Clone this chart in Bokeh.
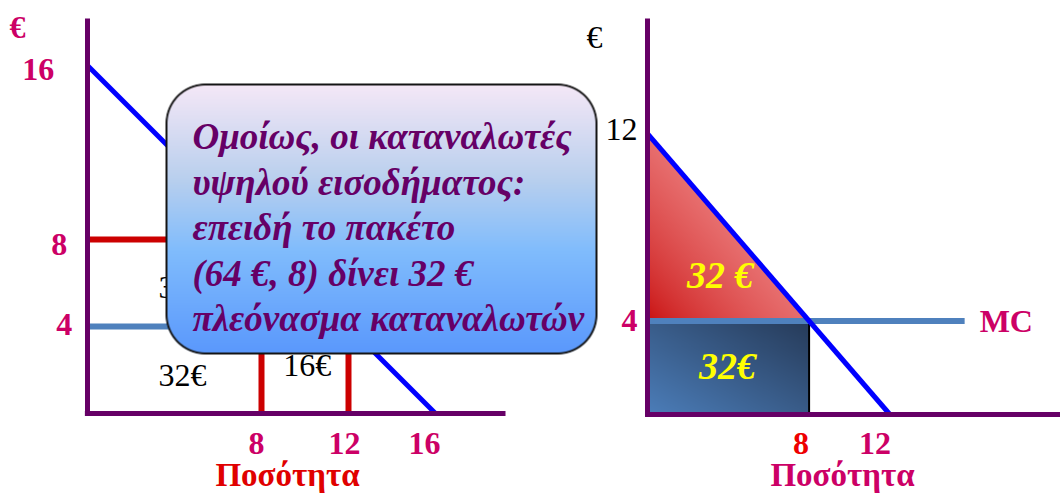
import numpy as np
from bokeh.plotting import figure
from bokeh.models import ColumnDataSource, Range1d
from bokeh.core.properties import value
from bokeh.embed import file_html
from bokeh.resources import INLINE

# ---------------- data ----------------
# Left panel: demand of high-income consumers, two-part tariff
left_demand_q = [0, 16]
left_demand_p = [16, 0]
left_price_ticks = [16, 8, 4]
left_qty_ticks = [8, 12, 16]
left_mc_price = 4
left_mc_q = [0, 12]
left_fee_price = 8
left_fee_q = [0, 8]
left_red_q = [8, 12]
left_red_top = [8, 4]
left_area_text = ["32€", "32€", "16€"]
left_area_q = [4.37, 4.37, 10.1]
left_area_p = [5.8, 1.79, 2.23]

# Right panel: single price at marginal cost
right_demand_q = [0, 12]
right_demand_p = [12, 0]
right_price_ticks = [12, 4]
right_qty_ticks = [8, 12]
right_mc_price = 4
right_mc_q = [0, 15.7]
right_quantity = 8
surplus_value = 32
cost_value = 32

box_lines = [
    "Ομοίως, οι καταναλωτές",
    "υψηλού εισοδήματος:",
    "επειδή το πακέτο",
    "(64 €, 8) δίνει 32 €",
    "πλεόνασμα καταναλωτών",
]

# ---------------- layout / style ----------------
W, H = 1060, 496
L_ORIG, L_S = (87.0, 413.0), 21.75            # left panel origin (px) and px per unit
R_ORIG, R_SX, R_SY = (647.0, 414.0), 20.2, 23.4  # right panel origin and scales

PURPLE = "#660066"
CRIMSON = "#cc0066"
RED = "#e00000"
LINE_RED = "#cc0000"
STEEL = "#4f81bd"
BLUE = "#0000ff"
YELLOW = "#ffff00"
SERIF = value("Liberation Serif")


def lx(px):
    return (px - L_ORIG[0]) / L_S


def ly(py):
    return (L_ORIG[1] - py) / L_S


def rx(px):
    return (px - R_ORIG[0]) / R_SX


def ry(py):
    return (R_ORIG[1] - py) / R_SY


p = figure(width=W, height=H,
           x_range=Range1d(lx(0), lx(W)), y_range=Range1d(ly(H), ly(0)),
           output_backend="svg", toolbar_location=None,
           x_axis_type=None, y_axis_type=None, min_border=0)
p.min_border_left = p.min_border_right = p.min_border_top = p.min_border_bottom = 0
p.outline_line_color = None
p.background_fill_color = "white"
p.extra_x_ranges = {"r": Range1d(rx(0), rx(W))}
p.extra_y_ranges = {"r": Range1d(ry(H), ry(0))}

R = dict(x_range_name="r", y_range_name="r")


def text(xs, ys, labels, color, size, style="bold", align="center",
         baseline="middle", dx=0, dy=0, **kw):
    n = len(xs)
    dxs = dx if isinstance(dx, list) else [dx] * n
    dys = dy if isinstance(dy, list) else [dy] * n
    src = ColumnDataSource(dict(x=xs, y=ys, t=labels, dx=dxs, dy=dys))
    p.text(x="x", y="y", text="t", source=src, text_font=SERIF,
           text_font_size=value(f"{size}px"), text_font_style=style,
           text_color=color, text_align=align, text_baseline=baseline,
           x_offset="dx", y_offset="dy", **kw)


def rgba_image(rgb, alpha):
    h, w = alpha.shape
    img = np.empty((h, w), dtype=np.uint32)
    v = img.view(dtype=np.uint8).reshape((h, w, 4))
    v[:, :, 0:3] = np.clip(rgb, 0, 255).astype(np.uint8)
    v[:, :, 3] = np.clip(alpha * 255, 0, 255).astype(np.uint8)
    return img


# ================= LEFT PANEL =================
# red two-part tariff guides
p.segment(x0=left_fee_q[0], y0=left_fee_price, x1=left_fee_q[1], y1=left_fee_price,
          line_color=LINE_RED, line_width=6)
p.segment(x0=left_red_q, y0=[0, 0], x1=left_red_q, y1=left_red_top,
          line_color=LINE_RED, line_width=6)
# marginal cost
p.line(left_mc_q, [left_mc_price] * 2, line_color=STEEL, line_width=6)
# demand
p.line(left_demand_q, left_demand_p, line_color=BLUE, line_width=5)
# axes
p.segment(x0=[0, -0.12], y0=[-0.1, 0], x1=[0, lx(505)], y1=[ly(18), 0],
          line_color=PURPLE, line_width=5)

text(left_area_q, left_area_p, left_area_text, "black", 32, style="normal")

text([-0.7] * 3, left_price_ticks, [str(v) for v in left_price_ticks], CRIMSON, 32,
     align="right", dx=[-18, -5, 0], dy=[4, 5, -2])
text(left_qty_ticks, [ly(443)] * 3, [str(v) for v in left_qty_ticks], CRIMSON, 32,
     dx=[-5, -4, -11])
text([lx(17)], [ly(26)], ["€"], CRIMSON, 32)
text([lx(287)], [ly(474)], ["Ποσότητα"], RED, 33)

# ---- callout box with vertical gradient ----
bx0, by0, bx1, by1, rad = 165, 83, 597, 354, 40
bw, bh = bx1 - bx0, by1 - by0
yy, xx = np.mgrid[0:bh, 0:bw] + 0.5
qx = np.abs(xx - bw / 2) - (bw / 2 - rad)
qy = np.abs(yy - bh / 2) - (bh / 2 - rad)
sd = np.hypot(np.maximum(qx, 0), np.maximum(qy, 0)) + np.minimum(np.maximum(qx, qy), 0) - rad
inside = np.clip(0.5 - sd, 0, 1)
border = np.clip(1.0 - (np.abs(sd + 0.9) - 0.6), 0, 1)
t = yy / bh
stops = [0.0, 0.35, 0.62, 1.0]
cols = np.array([[246, 232, 247], [186, 208, 238], [128, 188, 253], [90, 152, 252]])
rgb = np.stack([np.interp(t, stops, cols[:, c]) for c in range(3)], axis=-1)
rgb = rgb * (1 - border[..., None]) + 20 * border[..., None]
p.image_rgba(image=[np.flipud(rgba_image(rgb, inside))], x=lx(bx0), y=ly(by1),
             dw=bw / L_S, dh=bh / L_S)

text([lx(192)] * len(box_lines), [ly(136 + 45.5 * i) for i in range(len(box_lines))],
     box_lines, PURPLE, 37, style="bold italic", align="left", baseline="alphabetic")

# ================= RIGHT PANEL =================
p_top = right_demand_p[0]
slope = (right_demand_p[1] - right_demand_p[0]) / (right_demand_q[1] - right_demand_q[0])

# consumer surplus triangle (red diagonal gradient)
nw = int(round(right_quantity * R_SX))
nh = int(round((p_top - right_mc_price) * R_SY))
vv, uu = np.mgrid[0:nh, 0:nw] + 0.5       # vv measured from top
u = uu / nw
v = 1 - vv / nh
q_d = u * right_quantity
p_d = right_mc_price + v * (p_top - right_mc_price)
gap_px = (p_top + slope * q_d - p_d) * R_SY / np.sqrt(1 + (slope * R_SY / R_SX) ** 2)
tri_alpha = np.clip(gap_px + 0.5, 0, 1)
tt = np.clip(u + v, 0, 1) ** 0.7
c0, c1 = np.array([200, 12, 12]), np.array([232, 112, 112])
tri_rgb = c0 + (c1 - c0) * tt[..., None]
p.image_rgba(image=[np.flipud(rgba_image(tri_rgb, tri_alpha))], x=0, y=right_mc_price,
             dw=right_quantity, dh=p_top - right_mc_price, **R)

# cost rectangle (blue diagonal gradient)
mh = int(round(right_mc_price * R_SY))
vv2, uu2 = np.mgrid[0:mh, 0:nw] + 0.5
t2 = (uu2 / nw + (1 - vv2 / mh)) / 2
d0, d1 = np.array([76, 126, 186]), np.array([38, 58, 88])
rect_rgb = d0 + (d1 - d0) * t2[..., None]
p.image_rgba(image=[np.flipud(rgba_image(rect_rgb, np.ones_like(t2)))], x=0, y=0,
             dw=right_quantity, dh=right_mc_price, **R)
p.quad(left=0, right=right_quantity, bottom=0, top=right_mc_price,
       fill_color=None, line_color="black", line_width=2, **R)

# marginal cost and demand
p.line(right_mc_q, [right_mc_price] * 2, line_color=STEEL, line_width=6, **R)
p.line(right_demand_q, right_demand_p, line_color=BLUE, line_width=5, **R)
# axes
p.segment(x0=[0, -0.12], y0=[-0.1, 0], x1=[0, rx(W)], y1=[ry(18), 0],
          line_color=PURPLE, line_width=5, **R)

text([right_quantity * 0.45], [right_mc_price + (p_top - right_mc_price) * 0.245],
     [f"{surplus_value} €"], YELLOW, 38, style="bold italic", **R)
text([right_quantity * 0.495], [right_mc_price * 0.52],
     [f"{cost_value}€"], YELLOW, 38, style="bold italic", **R)

text([rx(637)], [right_price_ticks[0]], [str(right_price_ticks[0])], "black", 32,
     style="normal", align="right", dy=-4, **R)
text([rx(637)], [right_price_ticks[1]], [str(right_price_ticks[1])], CRIMSON, 32,
     align="right", **R)
text([right_qty_ticks[0]], [ry(443)], [str(right_qty_ticks[0])], "#ee0000", 32, dx=-8, **R)
text([right_qty_ticks[1]], [ry(443)], [str(right_qty_ticks[1])], CRIMSON, 32, dx=-15, **R)
text([right_mc_q[1]], [right_mc_price], ["MC"], CRIMSON, 32, align="left", dx=15, **R)
text([rx(594)], [ry(36)], ["€"], "black", 32, style="normal", **R)
text([rx(842)], [ry(474)], ["Ποσότητα"], CRIMSON, 33, **R)

open("out.html", "w").write(file_html(p, INLINE))
